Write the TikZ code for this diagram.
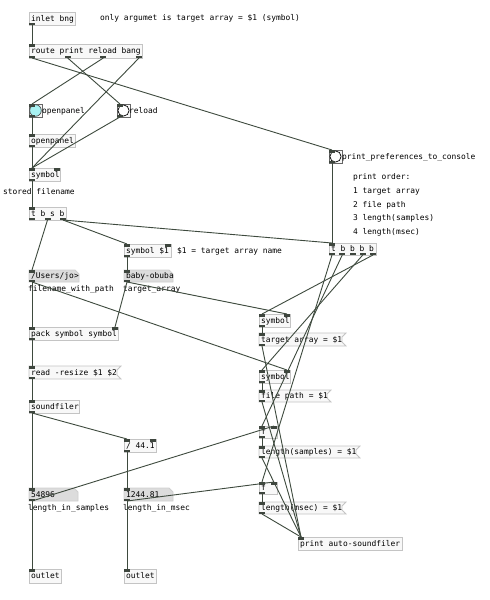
\documentclass[tikz,border=0pt]{standalone}
\usepackage{fontspec}
\newfontfamily\pdfont{DejaVu Sans Mono}
\definecolor{boxline}{HTML}{C4C4C4}
\definecolor{boxfill}{HTML}{F8F8F8}
\definecolor{atomfill}{HTML}{DCDCDC}
\definecolor{atomline}{HTML}{CFCFCF}
\definecolor{iocol}{HTML}{3E463E}
\definecolor{wirecol}{HTML}{3E4A3E}
\definecolor{bangcyan}{HTML}{A8F2F2}
\tikzset{
  txt/.style={font=\pdfont\fontsize{7.9}{9}\selectfont, inner sep=0pt, text height=5.8pt, text depth=0pt, anchor=west},
  wire/.style={draw=wirecol, line width=0.9pt},
  boxstyle/.style={draw=boxline, fill=boxfill, line width=0.8pt},
  atomstyle/.style={draw=atomline, fill=atomfill, line width=0.8pt},
}
\newcommand\iow{6}
\newcommand\pdshapeobj[4]{\path[boxstyle] (#1,#2) rectangle ({#1+#3},{#2+#4});}
\newcommand\pdshapemsg[4]{\path[boxstyle] (#1,#2) -- ({#1+#3+4},#2) -- ({#1+#3},{#2+4}) -- ({#1+#3},{#2+#4-4}) -- ({#1+#3+4},{#2+#4}) -- (#1,{#2+#4}) -- cycle;}
\newcommand\pdshapeatom[4]{\path[atomstyle] (#1,#2) -- ({#1+#3-4},#2) -- ({#1+#3},{#2+4}) -- ({#1+#3},{#2+#4}) -- (#1,{#2+#4}) -- cycle;}
\newcommand\pdshapebang[4]{\path[draw=black!60, fill=boxfill, line width=0.8pt] (#1,#2) rectangle ({#1+#3},{#2+#4});
  \path[draw=black, fill=white, line width=0.7pt] ({#1+#3/2},{#2+#4/2}) circle (5.6);}
\newcommand\pdshapebangc[4]{\path[draw=black!60, fill=boxfill, line width=0.8pt] (#1,#2) rectangle ({#1+#3},{#2+#4});
  \path[draw=black!70, fill=bangcyan, line width=0.7pt] ({#1+#3/2},{#2+#4/2}) circle (5.8);}
% type, name, x, y, w, h, inlets, outlets, text
\newcommand\pdobj[9]{%
  \csname pdshape#1\endcsname{#3}{#4}{#5}{#6}
  \node[txt] (#2) at ({#3+2},{#4+#6/2}) {#9};
  \ifnum#7>0
  \foreach \k in {1,...,#7}{
    \pgfmathsetmacro\px{#3+(#5-\iow)*(\k-1)/max(#7-1,1)}
    \fill[iocol] (\px,#4) rectangle ++(\iow,2.5);
    \coordinate (#2-i\k) at ({\px+\iow/2},#4);
  }
  \fi
  \ifnum#8>0
  \foreach \k in {1,...,#8}{
    \pgfmathsetmacro\px{#3+(#5-\iow)*(\k-1)/max(#8-1,1)}
    \fill[iocol] (\px,{#4+#6-2.5}) rectangle ++(\iow,2.5);
    \coordinate (#2-o\k) at ({\px+\iow/2},{#4+#6});
  }
  \fi
}
\begin{document}
\begin{tikzpicture}[x=1pt,y=-1pt]
\useasboundingbox[fill=white] (0,0) rectangle (490,600);
% objects
\pdobj{obj}{inletbng}{29}{12}{46}{13}{0}{1}{inlet bng}
\pdobj{obj}{route}{29}{44}{113}{14}{1}{4}{route print reload bang}
\pdobj{bangc}{openbang}{29}{104}{13}{13}{1}{1}{}
\pdobj{bang}{reloadbang}{117}{104}{13}{13}{1}{1}{}
\pdobj{obj}{openpanel}{29}{134}{46}{13}{1}{1}{openpanel}
\pdobj{obj}{symfile}{29}{168}{31}{13}{2}{1}{symbol}
\pdobj{obj}{tbsb}{29}{207}{37}{13}{1}{3}{t b s b}
\pdobj{obj}{symarg}{124}{244}{47}{13}{2}{1}{symbol \$1}
\pdobj{atom}{users}{29}{270}{50}{12}{1}{1}{/Users/jo>}
\pdobj{atom}{baby}{124}{270}{49}{12}{1}{1}{baby-obuba}
\pdobj{obj}{pack}{29}{327}{89}{13}{2}{1}{pack symbol symbol}
\pdobj{msg}{read}{29}{366}{88}{13}{1}{1}{read -resize \$1 \$2}
\pdobj{obj}{soundfiler}{29}{400}{50}{13}{1}{1}{soundfiler}
\pdobj{obj}{div}{124}{439}{32}{13}{2}{1}{/ 44.1}
\pdobj{atom}{nsamp}{29}{488}{49}{13}{1}{1}{54896}
\pdobj{atom}{nmsec}{124}{488}{49}{13}{1}{1}{1244.81}
\pdobj{obj}{outL}{29}{569}{32}{14}{1}{0}{outlet}
\pdobj{obj}{outR}{124}{569}{32}{14}{1}{0}{outlet}
\pdobj{bang}{prefbang}{329}{150}{13}{13}{1}{1}{}
\pdobj{obj}{tbbbb}{329}{243}{47}{12}{1}{5}{t b b b b}
\pdobj{obj}{symA}{259}{314}{31}{13}{2}{1}{symbol}
\pdobj{msg}{mtarget}{259}{333}{83}{13}{1}{1}{target array = \$1}
\pdobj{obj}{symB}{259}{370}{31}{13}{2}{1}{symbol}
\pdobj{msg}{mfile}{259}{390}{68}{12}{1}{1}{file path = \$1}
\pdobj{obj}{fA}{259}{426}{18}{12}{2}{1}{f}
\pdobj{msg}{msamp}{259}{446}{97}{12}{1}{1}{length(samples) = \$1}
\pdobj{obj}{fB}{259}{482}{18}{12}{2}{1}{f}
\pdobj{msg}{mmsec}{259}{502}{83}{12}{1}{1}{length(msec) = \$1}
\pdobj{obj}{print}{298}{537}{104}{13}{1}{0}{print auto-soundfiler}
% labels and comments
\node[txt] (c1) at (100,18) {only argumet is target array = \$1 (symbol)};
\node[txt] (lopen) at (42,110.5) {openpanel};
\node[txt] (lreload) at (129,110.5) {reload};
\node[txt] (lpref) at (342,156.5) {print\_preferences\_to\_console};
\node[txt] (c2) at (3,191.5) {stored filename};
\node[txt] (c3) at (177,250.5) {\$1 = target array name};
\node[txt] (lusers) at (28,289) {filename\_with\_path};
\node[txt] (lbaby) at (123,289) {target\_array};
\node[txt] (lsamp) at (28,508) {length\_in\_samples};
\node[txt] (lmsec) at (123,508) {length\_in\_msec};
\node[txt] (p0) at (353,177) {print order:};
\node[txt] (p1) at (353,191) {1 target array};
\node[txt] (p2) at (353,204.5) {2 file path};
\node[txt] (p3) at (353,218) {3 length(samples)};
\node[txt] (p4) at (353,231.5) {4 length(msec)};
% wires
\draw[wire] (inletbng-o1) -- (route-i1);
\draw[wire] (route-o1) -- (prefbang-i1);
\draw[wire] (route-o2) -- (reloadbang-i1);
\draw[wire] (route-o3) -- (openbang-i1);
\draw[wire] (route-o4) -- (symfile-i1);
\draw[wire] (openbang-o1) -- (openpanel-i1);
\draw[wire] (reloadbang-o1) -- (symfile-i1);
\draw[wire] (openpanel-o1) -- (symfile-i1);
\draw[wire] (symfile-o1) -- (tbsb-i1);
\draw[wire] (tbsb-o2) -- (users-i1);
\draw[wire] (tbsb-o3) -- (symarg-i1);
\draw[wire] (tbsb-o3) -- (tbbbb-i1);
\draw[wire] (symarg-o1) -- (baby-i1);
\draw[wire] (users-o1) -- (pack-i1);
\draw[wire] (users-o1) -- (symB-i2);
\draw[wire] (baby-o1) -- (pack-i2);
\draw[wire] (baby-o1) -- (symA-i2);
\draw[wire] (pack-o1) -- (read-i1);
\draw[wire] (read-o1) -- (soundfiler-i1);
\draw[wire] (soundfiler-o1) -- (nsamp-i1);
\draw[wire] (soundfiler-o1) -- (div-i1);
\draw[wire] (div-o1) -- (nmsec-i1);
\draw[wire] (nsamp-o1) -- (outL-i1);
\draw[wire] (nmsec-o1) -- (outR-i1);
\draw[wire] (nsamp-o1) -- (fA-i2);
\draw[wire] (nmsec-o1) -- (fB-i2);
\draw[wire] (prefbang-o1) -- (tbbbb-i1);
\draw[wire] (tbbbb-o1) -- (fB-i1);
\draw[wire] (tbbbb-o2) -- (fA-i1);
\draw[wire] (tbbbb-o4) -- (symB-i1);
\draw[wire] (tbbbb-o5) -- (symA-i1);
\draw[wire] (symA-o1) -- (mtarget-i1);
\draw[wire] (symB-o1) -- (mfile-i1);
\draw[wire] (fA-o1) -- (msamp-i1);
\draw[wire] (fB-o1) -- (mmsec-i1);
\draw[wire] (mtarget-o1) -- (print-i1);
\draw[wire] (mfile-o1) -- (print-i1);
\draw[wire] (msamp-o1) -- (print-i1);
\draw[wire] (mmsec-o1) -- (print-i1);
\end{tikzpicture}
\end{document}
